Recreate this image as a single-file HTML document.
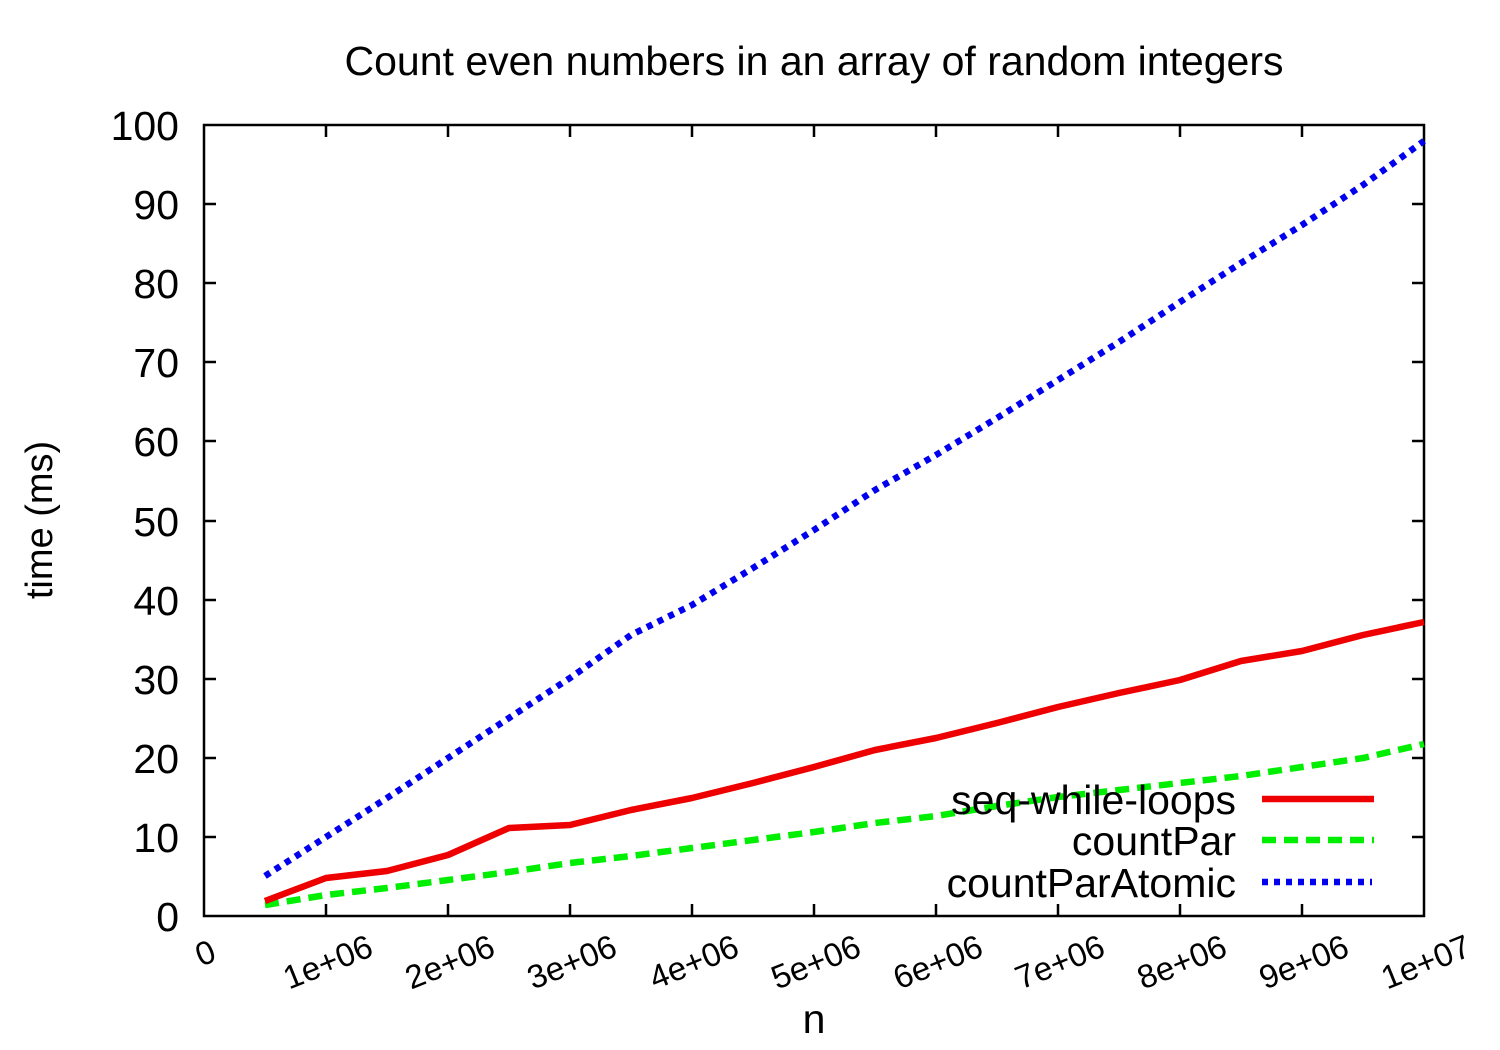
<!DOCTYPE html>
<html><head><style>html,body{margin:0;padding:0;background:#fff}svg{display:block}text{font-family:"Liberation Sans",sans-serif;fill:#000}</style></head>
<body>
<svg width="1500" height="1050" viewBox="0 0 1500 1050">
<rect width="1500" height="1050" fill="#fff"/>
<text x="814" y="75" font-size="41" text-anchor="middle">Count even numbers in an array of random integers</text>
<g stroke="#000" stroke-width="2.5" fill="none">
<rect x="204" y="125" width="1220" height="791"/>
<path d="M204 837h12M204 758h12M204 679h12M204 600h12M204 521h12M204 441h12M204 362h12M204 283h12M204 204h12
M1424 837h-12M1424 758h-12M1424 679h-12M1424 600h-12M1424 521h-12M1424 441h-12M1424 362h-12M1424 283h-12M1424 204h-12
M326 916v-12M448 916v-12M570 916v-12M692 916v-12M814 916v-12M936 916v-12M1058 916v-12M1180 916v-12M1302 916v-12
M326 125v12M448 125v12M570 125v12M692 125v12M814 125v12M936 125v12M1058 125v12M1180 125v12M1302 125v12"/>
</g>
<g font-size="41" text-anchor="end">
<text x="179" y="931">0</text><text x="179" y="852">10</text><text x="179" y="773">20</text><text x="179" y="694">30</text><text x="179" y="615">40</text><text x="179" y="536">50</text><text x="179" y="456">60</text><text x="179" y="377">70</text><text x="179" y="298">80</text><text x="179" y="219">90</text><text x="179" y="140">100</text>
</g>
<g font-size="33" text-anchor="end">
<text transform="translate(218,960) rotate(-22)">0</text>
<text transform="translate(375,955) rotate(-22)">1e+06</text>
<text transform="translate(497,955) rotate(-22)">2e+06</text>
<text transform="translate(619,955) rotate(-22)">3e+06</text>
<text transform="translate(741,955) rotate(-22)">4e+06</text>
<text transform="translate(863,955) rotate(-22)">5e+06</text>
<text transform="translate(985,955) rotate(-22)">6e+06</text>
<text transform="translate(1107,955) rotate(-22)">7e+06</text>
<text transform="translate(1229,955) rotate(-22)">8e+06</text>
<text transform="translate(1351,955) rotate(-22)">9e+06</text>
<text transform="translate(1473,955) rotate(-22)">1e+07</text>
</g>
<text x="814" y="1033" font-size="41" text-anchor="middle">n</text>
<text transform="translate(52,520) rotate(-90)" font-size="38" text-anchor="middle">time (ms)</text>
<g fill="none" stroke-width="6.5">
<polyline stroke="#0000ee" stroke-dasharray="6,6" points="265,876 326,837 387,798 448,758 509,718 570,678 631,635 692,605 753,568 814,530 875,490 936,455 997,418 1058,380 1119,342 1180,302 1241,263 1302,225 1363,185 1424,141"/>
<polyline stroke="#00ee00" stroke-dasharray="14,8" points="265,905 326,895 387,888 448,880 509,872 570,863 631,856 692,848 753,840 814,832 875,823 936,816 997,806 1058,797 1119,790 1180,783 1241,776 1302,767 1363,758 1424,744"/>
<polyline stroke="#ee0000" stroke-linejoin="round" points="265,901 326,878 387,871 448,855 509,828 570,825 631,810 692,798 753,783 814,767 875,750 936,738 997,723 1058,707 1119,693 1180,680 1241,661 1302,651 1363,635 1424,622"/>
<line x1="1262" y1="799" x2="1374" y2="799" stroke="#ee0000"/>
<line x1="1262" y1="840" x2="1374" y2="840" stroke="#00ee00" stroke-dasharray="14,8"/>
<line x1="1262" y1="882" x2="1372" y2="882" stroke="#0000ee" stroke-dasharray="6,6"/>
</g>
<g font-size="41" text-anchor="end">
<text x="1236" y="814">seq-while-loops</text>
<text x="1236" y="855">countPar</text>
<text x="1236" y="897">countParAtomic</text>
</g>
</svg>
</body></html>
